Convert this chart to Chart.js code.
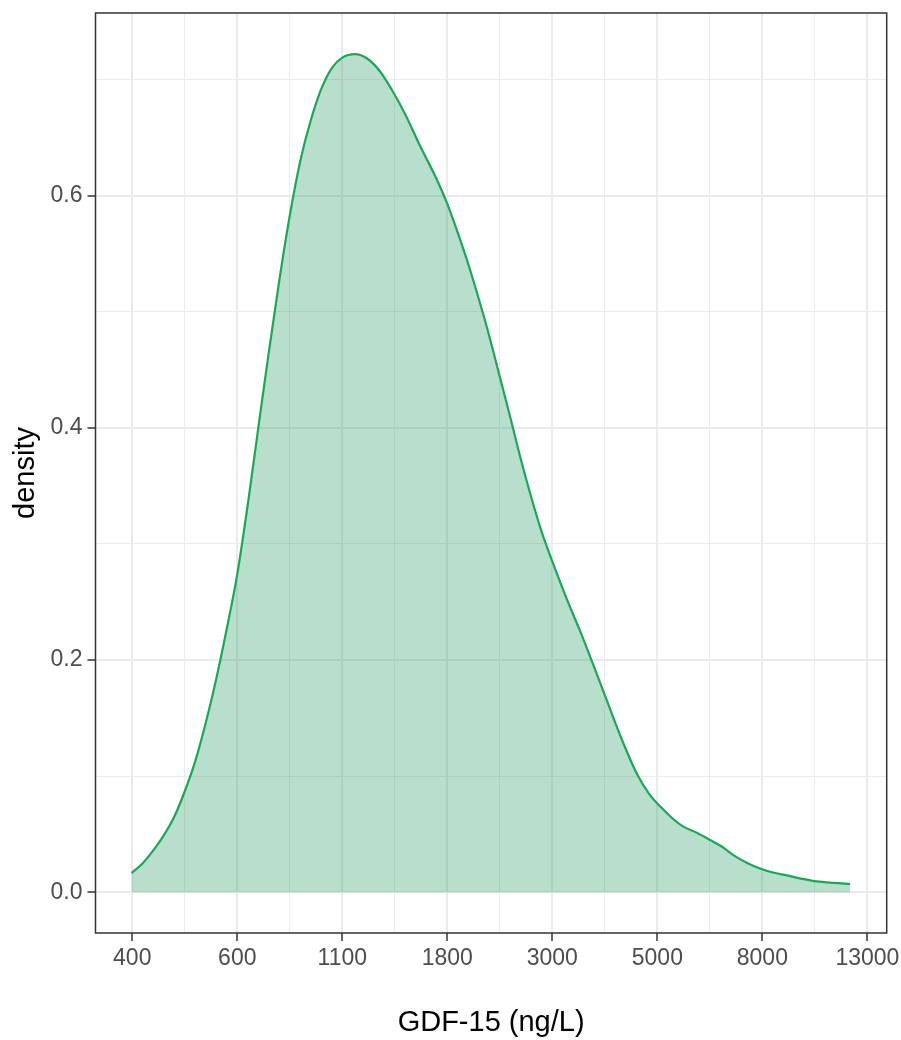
<!DOCTYPE html>
<html>
<head>
<meta charset="utf-8">
<script src="https://cdn.jsdelivr.net/npm/chart.js@4/dist/chart.umd.min.js"></script>
<style>
  html, body { margin: 0; padding: 0; background: #ffffff; }
  canvas { display: block; }
</style>
</head>
<body>
<canvas id="c" width="901" height="1040"></canvas>
<script>
// x positions are ln(GDF-15); the axis is labelled in ng/L
const logGdf = [5.997, 6.05, 6.1, 6.15, 6.2, 6.25, 6.3, 6.35, 6.4, 6.45, 6.5, 6.55, 6.6, 6.65, 6.7, 6.75, 6.8, 6.85, 6.9, 6.95, 7.0, 7.06, 7.12, 7.18, 7.24, 7.3, 7.37, 7.45, 7.5, 7.55, 7.6, 7.65, 7.7, 7.75, 7.8, 7.85, 7.9, 7.95, 8.0, 8.07, 8.13, 8.18, 8.26, 8.33, 8.4, 8.46, 8.513, 8.57, 8.624, 8.69, 8.751, 8.81, 8.862, 8.93, 8.989, 9.05, 9.116, 9.19, 9.259, 9.34, 9.418];
const density = [0.0165, 0.025, 0.036, 0.049, 0.065, 0.087, 0.113, 0.146, 0.184, 0.227, 0.274, 0.334, 0.400, 0.465, 0.527, 0.583, 0.630, 0.665, 0.692, 0.710, 0.719, 0.722, 0.718, 0.707, 0.690, 0.670, 0.643, 0.614, 0.593, 0.568, 0.541, 0.511, 0.479, 0.444, 0.409, 0.373, 0.340, 0.310, 0.285, 0.252, 0.226, 0.203, 0.165, 0.132, 0.103, 0.085, 0.074, 0.064, 0.0565, 0.051, 0.045, 0.039, 0.032, 0.025, 0.0205, 0.017, 0.0145, 0.0115, 0.0093, 0.0080, 0.0071];
const xTickValues = [6, 6.5, 7, 7.5, 8, 8.5, 9, 9.5];
const xTickLabels = ['400', '600', '1100', '1800', '3000', '5000', '8000', '13000'];
const yTickValues = [0, 0.2, 0.4, 0.6];
const yTickLabels = ['0.0', '0.2', '0.4', '0.6'];
const xTitle = 'GDF-15 (ng/L)';
const yTitle = 'density';

const FONT = '"Liberation Sans", Arial, Helvetica, sans-serif';
const points = logGdf.map((v, i) => ({ x: v, y: density[i] }));

function isMajor(list, v) { return list.some(t => Math.abs(t - v) < 1e-6); }

const panelBorder = {
  id: 'panelBorder',
  afterDraw(chart) {
    const a = chart.chartArea, ctx = chart.ctx;
    ctx.save();
    ctx.strokeStyle = '#333333';
    ctx.lineWidth = 1.5;
    ctx.strokeRect(a.left, a.top, a.right - a.left, a.bottom - a.top);
    ctx.restore();
  }
};

new Chart(document.getElementById('c'), {
  type: 'line',
  data: {
    datasets: [{
      data: points,
      borderColor: '#1aa858',
      borderWidth: 2.2,
      backgroundColor: 'rgba(18,150,85,0.30)',
      fill: 'origin',
      pointRadius: 0,
      cubicInterpolationMode: 'monotone'
    }]
  },
  options: {
    responsive: false,
    devicePixelRatio: 1,
    animation: false,
    layout: { padding: { top: 13, right: 14.3, left: 0, bottom: 0 } },
    plugins: { legend: { display: false }, tooltip: { enabled: false } },
    scales: {
      x: {
        type: 'linear',
        min: 5.825,
        max: 9.592,
        afterBuildTicks(scale) {
          const t = [];
          for (let v = 6; v <= 9.5 + 1e-9; v += 0.25) t.push({ value: Math.round(v * 100) / 100 });
          scale.ticks = t;
        },
        afterFit(scale) { scale.height = 107; scale.paddingLeft = 0; scale.paddingRight = 0; },
        border: { display: false },
        grid: {
          drawOnChartArea: true,
          color: '#ebebeb',
          lineWidth: ctx => isMajor(xTickValues, ctx.tick.value) ? 2 : 1,
          tickLength: 8,
          tickWidth: 1.5,
          tickColor: ctx => isMajor(xTickValues, ctx.tick.value) ? '#333333' : 'rgba(0,0,0,0)'
        },
        ticks: {
          autoSkip: false,
          maxRotation: 0,
          padding: 4,
          color: '#4d4d4d',
          font: { family: FONT, size: 23 },
          callback(v) {
            const i = xTickValues.findIndex(t => Math.abs(t - v) < 1e-6);
            return i >= 0 ? xTickLabels[i] : '';
          }
        },
        title: {
          display: true,
          text: xTitle,
          color: '#000000',
          font: { family: FONT, size: 29 },
          padding: { top: 0, bottom: 0 }
        }
      },
      y: {
        type: 'linear',
        min: -0.0351,
        max: 0.7574,
        afterBuildTicks(scale) {
          const t = [];
          for (let v = 0; v <= 0.7 + 1e-9; v += 0.1) t.push({ value: Math.round(v * 10) / 10 });
          scale.ticks = t;
        },
        afterFit(scale) { scale.width = 95.5; scale.paddingTop = 0; scale.paddingBottom = 0; },
        border: { display: false },
        grid: {
          color: '#ebebeb',
          lineWidth: ctx => isMajor(yTickValues, ctx.tick.value) ? 2 : 1,
          tickLength: 8,
          tickWidth: 1.5,
          tickColor: ctx => isMajor(yTickValues, ctx.tick.value) ? '#333333' : 'rgba(0,0,0,0)'
        },
        ticks: {
          autoSkip: false,
          padding: 5,
          color: '#4d4d4d',
          font: { family: FONT, size: 23 },
          callback(v) {
            const i = yTickValues.findIndex(t => Math.abs(t - v) < 1e-6);
            return i >= 0 ? yTickLabels[i] : '';
          }
        },
        title: {
          display: true,
          text: yTitle,
          color: '#000000',
          font: { family: FONT, size: 29 },
          padding: { top: 9, bottom: 0 }
        }
      }
    }
  },
  plugins: [panelBorder]
});
</script>
</body>
</html>
